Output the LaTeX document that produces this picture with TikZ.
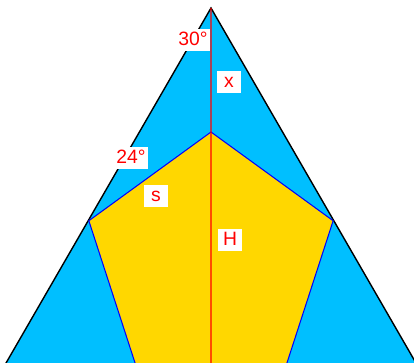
\documentclass[tikz,border=0pt]{standalone}
\usepackage{fontspec}
\setmainfont{Liberation Sans}
\usepackage{tikz}
\usetikzlibrary{calc}
\definecolor{skyfill}{HTML}{00BFFF}
\definecolor{goldfill}{HTML}{FFD700}
\tikzset{
  lbl/.style={fill=white, text=red, inner xsep=1.5pt, inner ysep=1.5pt,
    text height=8pt, text depth=2pt, minimum width=14pt,
    font=\fontsize{11}{13}\selectfont}
}

\begin{document}
\begin{tikzpicture}[x=0.02cm, y=0.02cm]
        \useasboundingbox (0,0) rectangle (414,363);
        \clip (0,0) rectangle (414,363);
        % triangle
        \coordinate (A) at (211,355);
        \coordinate (L) at ($(A)+(240:440)$);
        \coordinate (R) at ($(A)+(300:440)$);
        \fill[skyfill] (A) -- (L) -- (R) -- cycle;
        \draw[black, thick] (L) -- (A) -- (R);
        % pentagon
        \coordinate (P1) at (211,231);
        \coordinate (P2) at ($(P1)+(216:151)$);
        \coordinate (P3) at ($(P2)+(288:151)$);
        \coordinate (P5) at ($(P1)+(324:151)$);
        \coordinate (P4) at ($(P5)+(252:151)$);
        \coordinate (M) at ($(P3)!0.5!(P4)$);
        \draw[blue, semithick, fill=goldfill] (P1) -- (P2) -- (P3) -- (P4) -- (P5) -- cycle;
        \draw[red, semithick] (A) -- (M);
        % labels
        \node[lbl] (ang30) at (193,323) {30°};
        \node[lbl] (xlbl) at (229,281) {x};
        \node[lbl] (ang24) at (131,205) {24°};
        \node[lbl] (slbl) at (156,167) {s};
        \node[lbl] (hlbl) at (230,123) {H};
    \end{tikzpicture}
\end{document}
